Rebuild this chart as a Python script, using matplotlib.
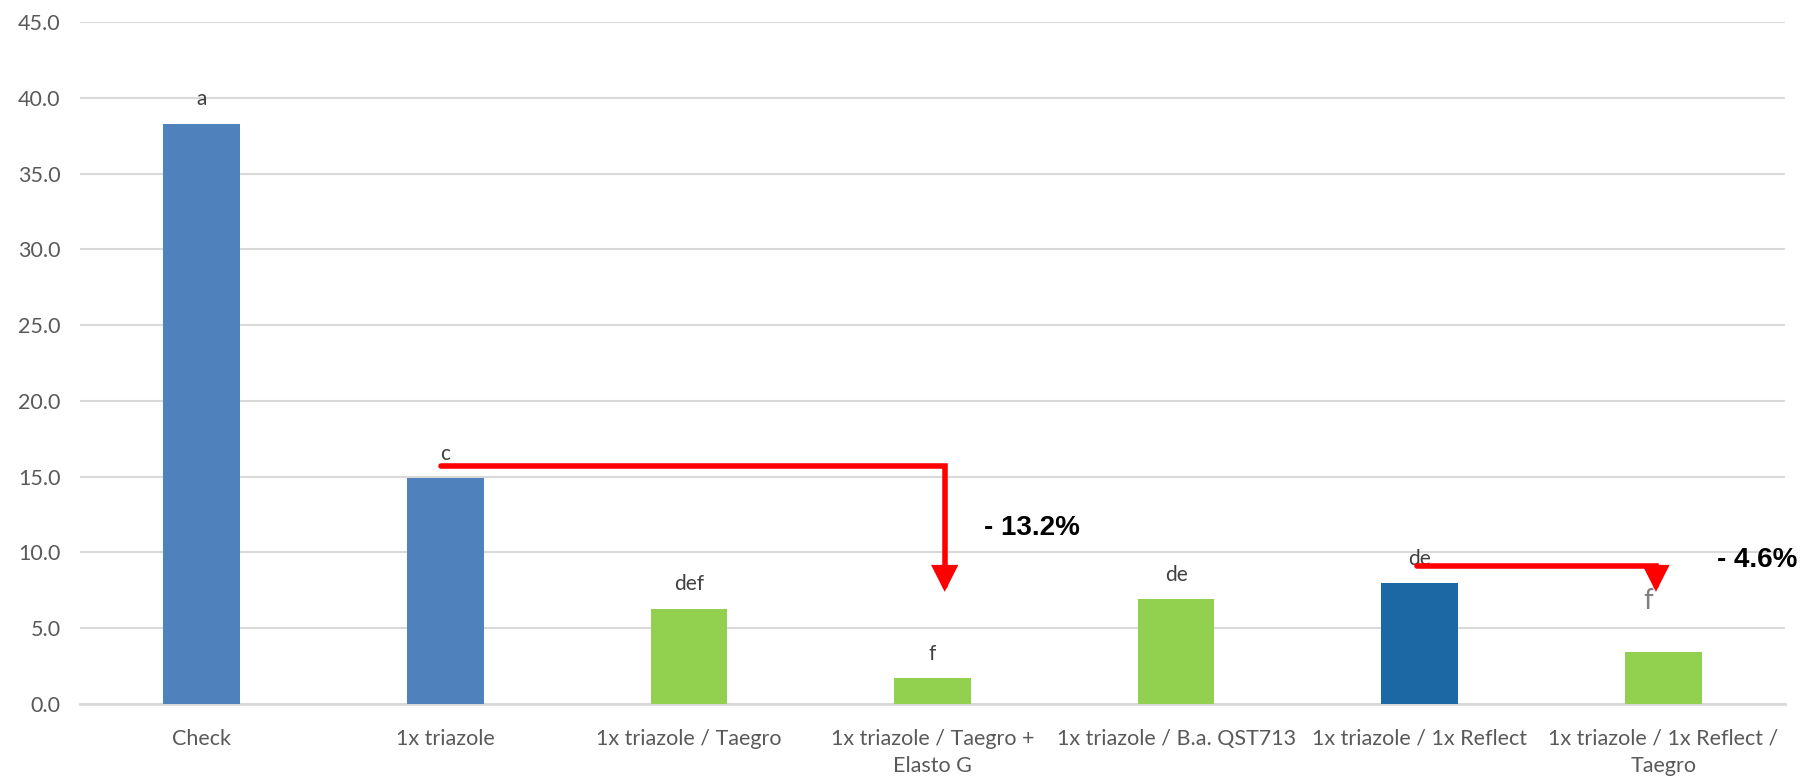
import numpy as np
import matplotlib.pyplot as plt

# -------------------------
# Daten
# -------------------------

categories = [
    "Check",
    "1x triazole",
    "1x triazole / Taegro",
    "1x triazole / Taegro +\nElasto G",
    "1x triazole / B.a. QST713",
    "1x triazole / 1x Reflect",
    "1x triazole / 1x Reflect /\nTaegro",
]
values = [38.3, 14.9, 6.3, 1.7, 6.9, 8.0, 3.4]
letters = ["a", "c", "def", "f", "de", "de", "f"]

BLUE = "#4F81BD"
DARK_BLUE = "#1B68A4"
GREEN = "#92D050"
bar_colors = [BLUE, BLUE, GREEN, GREEN, GREEN, DARK_BLUE, GREEN]

yticks = np.arange(0, 46, 5)

plt.rcParams["font.family"] = ["Lato", "DejaVu Sans"]

# -------------------------
# Plot
# -------------------------

fig = plt.figure(figsize=(18.02, 7.76), dpi=100, facecolor="white")
ax = fig.add_axes([0.0444, 0.0928, 0.9462, 0.8788])

x = np.arange(len(categories))
ax.bar(x, values, width=0.315, color=bar_colors, zorder=3)

# Buchstaben ueber den Balken
for i, (v, lab) in enumerate(zip(values, letters)):
    if i == len(values) - 1:
        ax.text(i - 0.06, v + 3.4, lab, ha="center", va="center",
                fontsize=20, color="#7F7F7F", zorder=4)
    else:
        ax.text(i, v + 1.6, lab, ha="center", va="center",
                fontsize=15, color="#404040", zorder=4)

# Achsen
ax.set_xlim(-0.5, len(categories) - 0.5)
ax.set_ylim(0, 45)
ax.set_yticks(yticks)
ax.set_yticklabels([f"{t:.1f}" for t in yticks], fontsize=15.5, color="#595959")
ax.set_xticks(x)
ax.set_xticklabels(categories, fontsize=15.5, color="#595959", linespacing=1.45)
ax.tick_params(axis="both", length=0)
ax.tick_params(axis="x", pad=18)
ax.tick_params(axis="y", pad=14)
ax.yaxis.grid(True, color="#D9D9D9", linewidth=1.5, zorder=0)
for s in ["top", "right", "left"]:
    ax.spines[s].set_visible(False)
ax.spines["bottom"].set_color("#D9D9D9")
ax.spines["bottom"].set_linewidth(2)
ax.spines["bottom"].set_zorder(2)

# Rote Pfeile
arrow_kw = dict(arrowstyle="-|>,head_length=0.65,head_width=0.33",
                color="red", lw=4.0, mutation_scale=20,
                shrinkA=0, shrinkB=0, joinstyle="miter",
                connectionstyle="angle,angleA=0,angleB=90,rad=0")
ax.annotate("", xy=(3.05, 7.4), xytext=(0.98, 15.7), arrowprops=arrow_kw,
            zorder=5)
ax.annotate("", xy=(5.97, 7.4), xytext=(4.99, 9.1), arrowprops=arrow_kw,
            zorder=5)

ax.text(3.21, 11.6, "- 13.2%", fontsize=20, fontweight="bold",
        family="Liberation Sans", ha="left", va="center", color="black")
ax.text(6.22, 9.5, "- 4.6%", fontsize=20, fontweight="bold",
        family="Liberation Sans", ha="left", va="center", color="black",
        clip_on=False)

plt.savefig("out.png", dpi=100, facecolor="white")
